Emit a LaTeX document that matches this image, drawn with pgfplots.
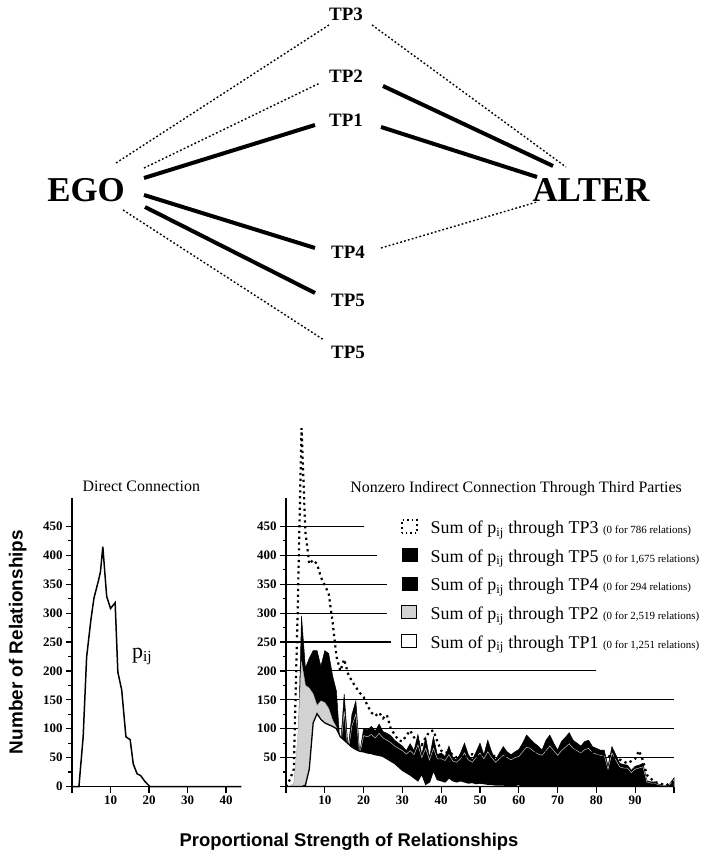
\documentclass[border=0pt]{standalone}
\usepackage{fontspec}
\setmainfont{Liberation Serif}
\newfontfamily\sansb{Liberation Sans}
\usepackage{pgfplots}
\pgfplotsset{compat=1.18}
\newcommand{\fs}[1]{\fontsize{#1}{#1}\selectfont}
\newcommand{\pij}{p\textsubscript{ij}}
\begin{document}
\begin{tikzpicture}
\useasboundingbox (0,0) rectangle (705bp,853bp);
% ---------------- top diagram ----------------
\begin{axis}[at={(0bp,0bp)}, anchor=south west, scale only axis,
  width=705bp, height=853bp, xmin=0, xmax=705, ymin=-853, ymax=0,
  hide axis, clip=false]
\pgfplotsset{solidl/.style={black, line width=4bp, line cap=butt},
  dotl/.style={black, line width=1.4bp, dash pattern=on 1.8bp off 2.2bp}}
\addplot[dotl] coordinates {(116,-163) (329,-25)};
\addplot[dotl] coordinates {(372,-25) (566,-167)};
\addplot[dotl] coordinates {(144,-168) (320,-83)};
\addplot[solidl] coordinates {(383,-86) (553,-166)};
\addplot[solidl] coordinates {(144,-178) (315,-125)};
\addplot[solidl] coordinates {(381,-127) (537,-177)};
\addplot[solidl] coordinates {(144,-195) (315,-248)};
\addplot[dotl] coordinates {(381,-248) (537,-202)};
\addplot[solidl] coordinates {(145,-207) (315,-293)};
\addplot[dotl] coordinates {(123,-210) (324,-340)};
\node[font=\bfseries\fs{19}] at (axis cs:346,-14) {TP3};
\node[font=\bfseries\fs{19}] at (axis cs:346,-76) {TP2};
\node[font=\bfseries\fs{19}] at (axis cs:346,-120) {TP1};
\node[font=\bfseries\fs{19}] at (axis cs:348,-252) {TP4};
\node[font=\bfseries\fs{19}] at (axis cs:348,-300) {TP5};
\node[font=\bfseries\fs{19}] at (axis cs:348,-352) {TP5};
\node[font=\bfseries\fs{35}] at (axis cs:86,-190) {EGO};
\node[font=\bfseries\fs{35}] at (axis cs:591,-190) {ALTER};
\node[font=\sansb\bfseries\fs{18.5}] at (axis cs:349,-842) {Proportional Strength of Relationships};
\end{axis}
% ---------------- left chart ----------------
\begin{axis}[at={(72bp,66.5bp)}, anchor=south west, scale only axis,
  width=169.5bp, height=289bp, xmin=0, xmax=44, ymin=0, ymax=500,
  axis x line=bottom, axis y line=left,
  axis line style={line width=1.5bp, -},
  every outer x axis line/.append style={-}, every outer y axis line/.append style={-},
  xtick={0,10,20,30,40}, xticklabels={,10,20,30,40},
  ytick={0,50,100,150,200,250,300,350,400,450},
  yticklabels={0,50,100,150,200,250,300,350,400,450},
  minor y tick num=1,
  tick align=outside, major tick length=6bp, minor tick length=3.5bp,
  every tick/.style={black, line width=1.2bp},
  tick label style={font=\bfseries\fs{13}},
  ylabel={Number of Relationships},
  ylabel style={font=\sansb\bfseries\fs{19}, at={(axis description cs:-0.32,0.5)}, anchor=center},
  clip=false]
\addplot[black, line width=1.5bp] coordinates {
(0,0)(1.8,0)(2.9,86)(3.8,224)(4.9,288)(5.7,326)(6.9,357)(7.4,372)(8.0,415)
(9.0,329)(10.0,308)(11.2,318)(11.9,198)(12.9,167)(14.0,86)(15.1,81)(15.9,39)
(16.9,22)(17.8,19)(18.9,9)(20.2,0)(44,0)};
\node[font=\fs{22}] at (axis cs:18.2,225) {\pij};
\node[font=\fs{16}] at (axis cs:18,519) {Direct Connection};
\end{axis}
% ---------------- right chart ----------------
\begin{axis}[at={(286bp,66.5bp)}, anchor=south west, scale only axis,
  width=388bp, height=289bp, xmin=0, xmax=100, ymin=0, ymax=500,
  axis x line=bottom, axis y line=left,
  axis line style={line width=1.5bp, -},
  every outer x axis line/.append style={-}, every outer y axis line/.append style={-},
  xtick={0,10,20,30,40,50,60,70,80,90,100}, xticklabels={,10,20,30,40,50,60,70,80,90,},
  ytick={0,50,100,150,200,250,300,350,400,450},
  yticklabels={,50,100,150,200,250,300,350,400,450},
  minor y tick num=1,
  tick align=outside, major tick length=6bp, minor tick length=3.5bp,
  every tick/.style={black, line width=1.2bp},
  tick label style={font=\bfseries\fs{13}},
  clip=false,
  legend style={at={(axis cs:29.6,462.5)}, anchor=north west, draw=none, fill=none,
    font=\fs{18}, inner sep=0pt, row sep=11bp,
    nodes={inner sep=0pt, text height=11bp, text depth=3.5bp},
    /tikz/every odd column/.append style={column sep=13bp}},
  legend cell align=left]
% legend images
\addlegendimage{legend image code/.code={\draw[black, line width=1.6bp, dash pattern=on 1.6bp off 3bp] (0bp,-3bp) rectangle (15bp,10bp);}}
\addlegendentry{Sum of \pij{} through TP3 {\fs{11}(0 for 786 relations)}}
\addlegendimage{legend image code/.code={\draw[black, fill=black] (0bp,-3bp) rectangle (15bp,10bp);}}
\addlegendentry{Sum of \pij{} through TP5 {\fs{11}(0 for 1,675 relations)}}
\addlegendimage{legend image code/.code={\draw[black, fill=black] (0bp,-3bp) rectangle (15bp,10bp);}}
\addlegendentry{Sum of \pij{} through TP4 {\fs{11}(0 for 294 relations)}}
\addlegendimage{legend image code/.code={\draw[black, line width=1bp, fill=gray!35] (0bp,-3bp) rectangle (15bp,10bp);}}
\addlegendentry{Sum of \pij{} through TP2 {\fs{11}(0 for 2,519 relations)}}
\addlegendimage{legend image code/.code={\draw[black, line width=1bp, fill=white] (0bp,-3bp) rectangle (15bp,10bp);}}
\addlegendentry{Sum of \pij{} through TP1 {\fs{11}(0 for 1,251 relations)}}
% grid lines
\addplot[forget plot, black, line width=1.1bp] coordinates {(0,450)(20,450)};
\addplot[forget plot, black, line width=1.1bp] coordinates {(0,400)(23.5,400)};
\addplot[forget plot, black, line width=1.1bp] coordinates {(0,350)(26,350)};
\addplot[forget plot, black, line width=1.1bp] coordinates {(0,300)(26,300)};
\addplot[forget plot, black, line width=1.1bp] coordinates {(0,250)(27,250)};
\addplot[forget plot, black, line width=1.1bp] coordinates {(0,200)(80,200)};
\addplot[forget plot, black, line width=1.1bp] coordinates {(0,150)(100,150)};
\addplot[forget plot, black, line width=1.1bp] coordinates {(0,100)(100,100)};
\addplot[forget plot, black, line width=1.1bp] coordinates {(0,50)(100,50)};
% TP5
\addplot[forget plot, fill=black, draw=black, line width=0.5bp] coordinates {
(0,0)(1,0)(2,4)(3,30)(4,295)(5,205)(6,222)(7,235)(8,235)(9,208)(10,235)
(11,230)(12,192)(13,165)(14,65)(15,160)(16,65)(17,125)(18,148)(19,58)(20,100)
(21,98)(22,104)(23,96)(24,108)(25,95)(26,92)(27,88)(28,80)(29,75)(30,70)
(31,62)(32,74)(33,62)(34,90)(35,55)(36,85)(37,50)(38,86)(39,55)(40,58)
(41,52)(42,70)(43,50)(44,46)(45,58)(46,75)(47,55)(48,46)(49,60)(50,75)
(51,55)(52,80)(53,60)(54,46)(55,58)(56,69)(57,60)(58,55)(59,60)(60,64)
(61,75)(62,89)(63,82)(64,75)(65,70)(66,63)(67,80)(68,89)(69,75)(70,63)
(71,78)(72,85)(73,93)(74,80)(75,75)(76,70)(77,78)(78,80)(79,69)(80,66)
(81,63)(82,63)(83,35)(84,69)(85,55)(86,40)(87,38)(88,37)(89,28)(90,35)
(91,37)(92,40)(93,10)(94,8)(95,8)(96,4)(97,3)(98,1)(99,5)(100,15)} \closedcycle;
% TP4
\addplot[forget plot, fill=black, draw=gray!45, line width=0.5bp] coordinates {
(0,0)(1,0)(2,3)(3,25)(4,180)(5,160)(6,160)(7,150)(8,130)(9,140)(10,135)
(11,125)(12,105)(13,95)(14,60)(15,130)(16,60)(17,105)(18,125)(19,55)(20,88)
(21,86)(22,90)(23,84)(24,92)(25,84)(26,80)(27,76)(28,70)(29,66)(30,62)
(31,56)(32,62)(33,55)(34,72)(35,50)(36,66)(37,46)(38,66)(39,48)(40,48)
(41,45)(42,55)(43,44)(44,42)(45,48)(46,58)(47,46)(48,42)(49,50)(50,58)
(51,48)(52,60)(53,50)(54,42)(55,48)(56,54)(57,50)(58,46)(59,50)(60,52)
(61,60)(62,68)(63,66)(64,60)(65,56)(66,54)(67,62)(68,70)(69,62)(70,54)
(71,62)(72,68)(73,74)(74,66)(75,62)(76,58)(77,64)(78,66)(79,58)(80,56)
(81,54)(82,54)(83,30)(84,58)(85,46)(86,34)(87,32)(88,32)(89,24)(90,30)
(91,32)(92,34)(93,8)(94,6)(95,6)(96,3)(97,2)(98,1)(99,4)(100,12)} \closedcycle;
% TP2
\addplot[forget plot, fill=gray!35, draw=gray!60, line width=0.5bp] coordinates {
(0,0)(1,0)(2,5)(3,80)(4,215)(5,175)(6,170)(7,160)(8,140)(9,148)(10,145)
(11,135)(12,115)(13,102)(14,80)(15,0)} \closedcycle;
% TP1
\addplot[forget plot, fill=white, draw=black, line width=1.3bp] coordinates {
(0,0)(4,0)(5,2)(6,30)(7,110)(8,126)(9,116)(10,110)(11,107)(12,104)(13,100)
(14,86)(15,80)(16,74)(17,68)(18,64)(19,61)(20,60)(21,58)(22,57)(23,55)(24,54)
(25,52)(26,48)(27,44)(28,40)(29,34)(30,28)(31,24)(32,20)(33,15)(34,10)(35,22)
(36,4)(37,8)(38,28)(39,12)(40,10)(41,8)(42,15)(43,10)(44,8)(45,10)(46,8)
(47,6)(48,7)(49,5)(50,6)(51,5)(52,4)(53,4)(54,3)(55,3)(56,3)(57,2)(58,2)
(59,2)(60,4)(61,0)(100,0)} \closedcycle;
% TP3 dotted
\addplot[forget plot, black, line width=2.2bp, dash pattern=on 2.2bp off 3.6bp] coordinates {
(0,0)(1,12)(2,30)(3,300)(4,620)(5,440)(6,385)(7,392)(8,385)(9,362)(10,348)
(11,334)(12,285)(13,225)(14,200)(15,220)(16,195)(17,182)(18,172)(19,162)(20,155)
(21,140)(22,128)(23,122)(24,128)(25,118)(26,124)(27,100)(28,90)(29,80)(30,78)
(31,88)(32,97)(33,85)(34,78)(35,72)(36,85)(37,95)(38,97)(39,78)(40,62)
(41,58)(42,60)(43,55)(44,50)(45,52)(46,55)(47,52)(48,56)(49,52)(50,55)
(55,52)(60,55)(65,58)(70,60)(75,62)(80,58)(85,50)(88,40)(90,48)(91,62)
(92,45)(93,20)(95,8)(98,2)(100,10)};
\node[font=\fs{16}] at (axis cs:59.3,516) {Nonzero Indirect Connection Through Third Parties};
\end{axis}
\end{tikzpicture}
\end{document}
